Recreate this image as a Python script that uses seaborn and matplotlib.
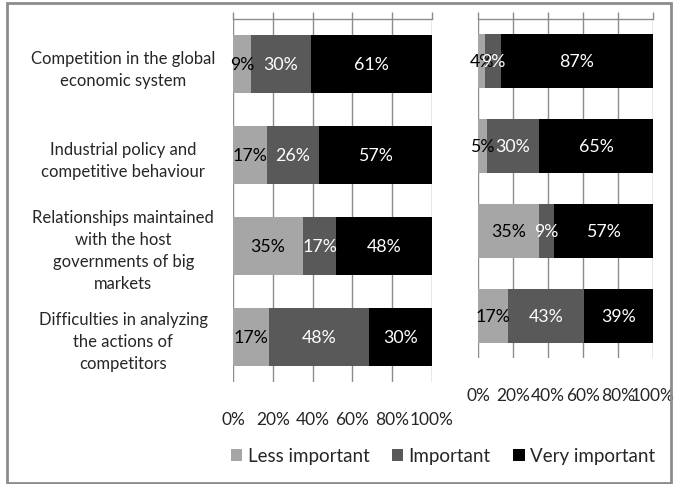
import numpy as np
import pandas as pd
import matplotlib
matplotlib.use("Agg")
import matplotlib.pyplot as plt
from matplotlib.patches import Patch, Rectangle
import seaborn as sns

categories = [
    "Competition in the global\neconomic system",
    "Industrial policy and\ncompetitive behaviour",
    "Relationships maintained\nwith the host\ngovernments of big\nmarkets",
    "Difficulties in analyzing\nthe actions of\ncompetitors",
]
series = ["Less important", "Important", "Very important"]
colors = ["#A6A6A6", "#595959", "#000000"]
text_colors = ["black", "white", "white"]

# left panel
left_less = [9, 17, 35, 17]
left_imp = [30, 26, 17, 48]
left_very = [61, 57, 48, 30]
# right panel
right_less = [4, 5, 35, 17]
right_imp = [9, 30, 9, 43]
right_very = [87, 65, 57, 39]

ticks = [0, 20, 40, 60, 80, 100]
tick_labels = ["0%", "20%", "40%", "60%", "80%", "100%"]

sns.set_style("white")
plt.rcParams["font.family"] = ["Lato", "DejaVu Sans"]
FS_CAT = 12
FS_TICK = 12.5
FS_BAR = 12.8
FS_LEG = 13.5

fig = plt.figure(figsize=(6.88, 4.85), dpi=100)
W, H = 688, 485


def px_axes(x0, x1, y0, y1):
    return fig.add_axes([x0 / W, 1 - y1 / H, (x1 - x0) / W, (y1 - y0) / H])


ax_l = px_axes(233, 432, 20, 383)
ax_r = px_axes(478, 653, 20, 359)
grid_col = "#8C8C8C"


def draw_panel(ax, less, imp, very, show_labels):
    df = pd.DataFrame({"cat": categories, "less": less, "imp": imp, "very": very})
    total = df[["less", "imp", "very"]].sum(axis=1)
    shares = df[["less", "imp", "very"]].div(total, axis=0) * 100
    cum = shares.cumsum(axis=1)
    df["c1"], df["c2"], df["c3"] = cum["less"], cum["imp"], cum["very"]

    ax.set_axisbelow(True)
    ax.grid(axis="x", color=grid_col, lw=1)
    ax.grid(axis="y", visible=False)
    for col, c in zip(["c3", "c2", "c1"], colors[::-1]):
        sns.barplot(data=df, x=col, y="cat", order=categories, color=c,
                    saturation=1, width=0.64, errorbar=None, linewidth=0, ax=ax)

    # segment labels
    starts = cum.shift(axis=1, fill_value=0)
    for i in range(len(categories)):
        for j, key in enumerate(["less", "imp", "very"]):
            mid = starts.iloc[i, j] + shares.iloc[i, j] / 2
            ax.text(mid, i, f"{df[key].iloc[i]}%", ha="center", va="center",
                    color=text_colors[j], fontsize=FS_BAR)

    ax.set_xlim(0, 100)
    ax.set_ylim(len(categories) - 0.5, -0.5)
    ax.set_xticks(ticks)
    ax.set_xticklabels(tick_labels, fontsize=FS_TICK)
    ax.set_xlabel("")
    ax.set_ylabel("")
    for s in ["left", "right", "bottom"]:
        ax.spines[s].set_visible(False)
    ax.spines["top"].set_visible(True)
    ax.spines["top"].set_color(grid_col)
    ax.spines["top"].set_linewidth(1)
    ax.tick_params(axis="x", top=True, bottom=False, labelbottom=True,
                   labeltop=False, direction="out", length=5, width=1,
                   color=grid_col, pad=16)
    ax.tick_params(axis="y", left=False, length=0)
    if show_labels:
        for lab in ax.get_yticklabels():
            lab.set_horizontalalignment("center")
            lab.set_multialignment("center")
            lab.set_fontsize(FS_CAT)
            lab.set_linespacing(1.46)
        ax.tick_params(axis="y", pad=79)
    else:
        ax.set_yticklabels([])


draw_panel(ax_l, left_less, left_imp, left_very, True)
draw_panel(ax_r, right_less, right_imp, right_very, False)

handles = [Patch(facecolor=c, edgecolor="none", label=s) for s, c in zip(series, colors)]
fig.legend(handles=handles, loc="center", bbox_to_anchor=(443 / W, 1 - 457 / H),
           ncol=3, frameon=False, fontsize=FS_LEG, handlelength=0.6, handleheight=0.6,
           handletextpad=0.3, columnspacing=1.2)

fig.patches.append(Rectangle((7 / W, 1 / H), 664 / W, 480 / H, transform=fig.transFigure,
                             fill=False, edgecolor=grid_col, lw=2))

fig.savefig("out.png", dpi=100)
